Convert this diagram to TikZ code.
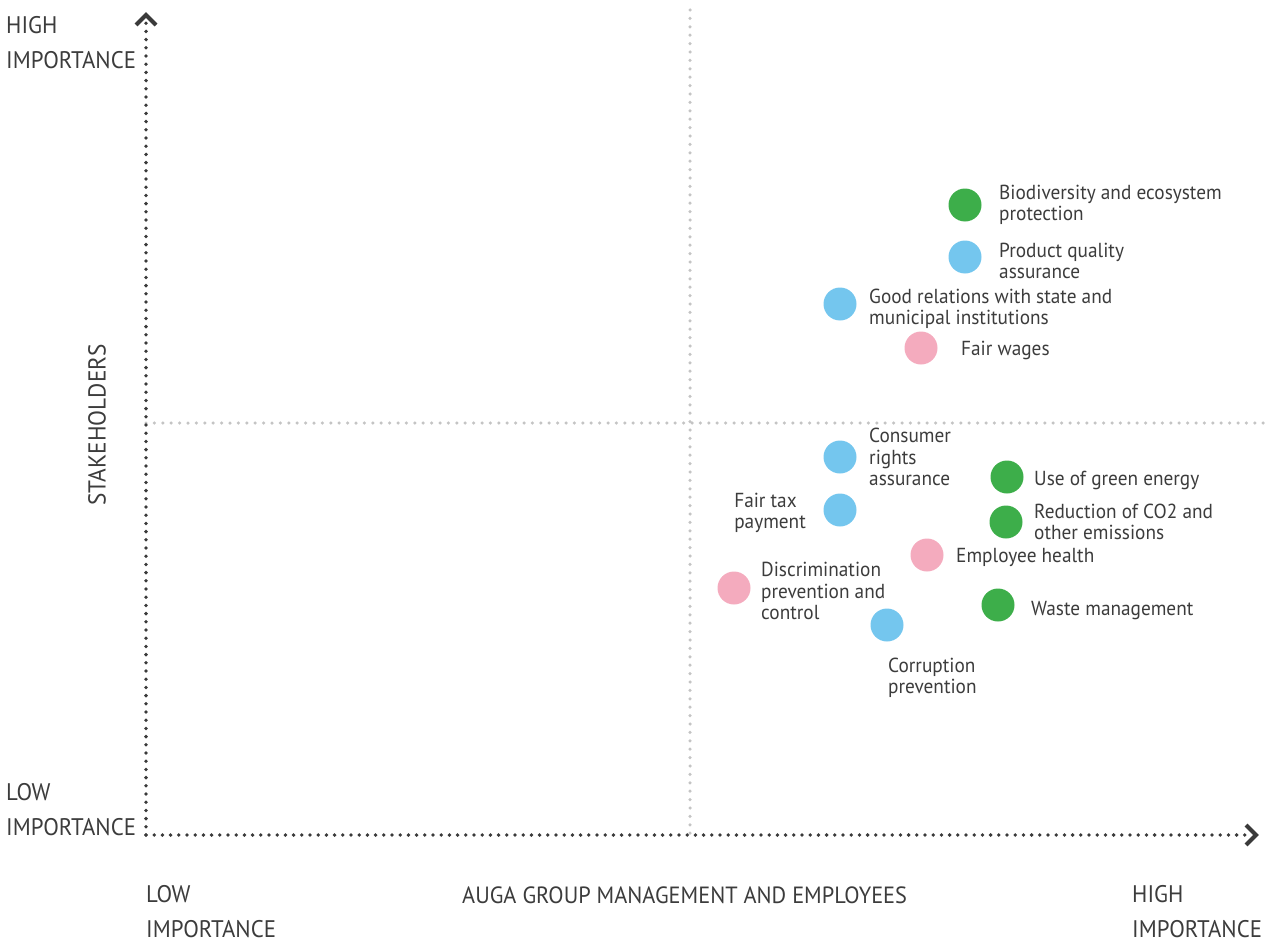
\documentclass[tikz,border=0pt]{standalone}
\usepackage{fontspec}
\setmainfont{PT Sans}[FakeStretch=0.95]
\definecolor{txt}{HTML}{3C3C3C}
\definecolor{axis}{HTML}{3A3A3A}
\definecolor{grid}{HTML}{C4C4C4}
\definecolor{cgreen}{HTML}{3DAE4A}
\definecolor{cblue}{HTML}{74C6EE}
\definecolor{cpink}{HTML}{F4ABBE}
\tikzset{
  axisline/.style={axis, line width=3.8pt, line cap=round, dash pattern=on 0pt off 8.2pt},
  gridline/.style={grid, line width=3.5pt, line cap=round, dash pattern=on 0pt off 8.4pt},
  chev/.style={axis, line width=4pt, line join=miter, line cap=butt},
  dot/.style={circle, minimum size=33pt, inner sep=0pt, fill=#1},
  lbl/.style={anchor=west, inner sep=0pt, align=left, text=txt, font=\fontsize{20.3}{21.5}\selectfont},
  axlbl/.style={anchor=west, inner sep=0pt, align=left, text=txt, font=\fontsize{24}{35}\selectfont},
}
\begin{document}
\begin{tikzpicture}[x=1pt,y=-1pt]
\useasboundingbox (0,0) rectangle (1269,942);
% grid lines
\coordinate (gt) at (690,10);
\coordinate (gb) at (690,835);
\coordinate (gl) at (146,423);
\coordinate (gr) at (1266,423);
\draw[gridline] (gt) -- (gb);
\draw[gridline] (gl) -- (gr);
% axes
\coordinate (o) at (146,835);
\coordinate (ytop) at (146,22);
\coordinate (xend) at (1252,835);
\draw[axisline] (o) -- (ytop);
\draw[axisline] (o) -- (xend);
\draw[chev] (136,25) -- (146,15) -- (156,25);
\draw[chev] (1246,825) -- (1256,835) -- (1246,845);
% axis labels
\node[axlbl] (yhigh) at (6,43) {HIGH\\IMPORTANCE};
\node[axlbl] (ylow) at (6,810) {LOW\\IMPORTANCE};
\node[axlbl] (xlow) at (146,912) {LOW\\IMPORTANCE};
\node[axlbl] (xhigh) at (1132,912) {HIGH\\IMPORTANCE};
\node[axlbl, font=\fontsize{23.5}{28}\selectfont] (xtitle) at (462,895) {AUGA GROUP MANAGEMENT AND EMPLOYEES};
\node[text=txt, inner sep=0pt, font=\fontsize{24.5}{28}\selectfont, rotate=90] (ytitle) at (97,425) {STAKEHOLDERS};
% dots and labels
\node[dot=cgreen] (bio) at (965,205) {};
\node[lbl] (biol) at (999,205) {Biodiversity and ecosystem\\protection};
\node[dot=cblue] (pq) at (965,257) {};
\node[lbl] (pql) at (999,261) {Product quality\\assurance};
\node[dot=cblue] (gr) at (840,304) {};
\node[lbl] (grl) at (869,309) {Good relations with state and\\municipal institutions};
\node[dot=cpink] (fw) at (921,348) {};
\node[lbl] (fwl) at (961,350) {Fair wages};
\node[dot=cblue] (cr) at (840,457) {};
\node[lbl] (crl) at (869,457) {Consumer\\rights\\assurance};
\node[dot=cgreen] (ge) at (1007,477) {};
\node[lbl] (gel) at (1034,480) {Use of green energy};
\node[dot=cblue] (ft) at (840,510) {};
\node[lbl, anchor=east] (ftl) at (806,513) {Fair tax\\payment};
\node[dot=cgreen] (co) at (1006,522) {};
\node[lbl] (col) at (1034,522) {Reduction of CO2 and\\other emissions};
\node[dot=cpink] (eh) at (927,555) {};
\node[lbl] (ehl) at (956,557) {Employee health};
\node[dot=cpink] (dp) at (734,588) {};
\node[lbl] (dpl) at (761,591) {Discrimination\\prevention and\\control};
\node[dot=cgreen] (wm) at (998,605) {};
\node[lbl] (wml) at (1031,611) {Waste management};
\node[dot=cblue] (cp) at (887,625) {};
\node[lbl] (cpl) at (888,678) {Corruption\\prevention};
\end{tikzpicture}
\end{document}
